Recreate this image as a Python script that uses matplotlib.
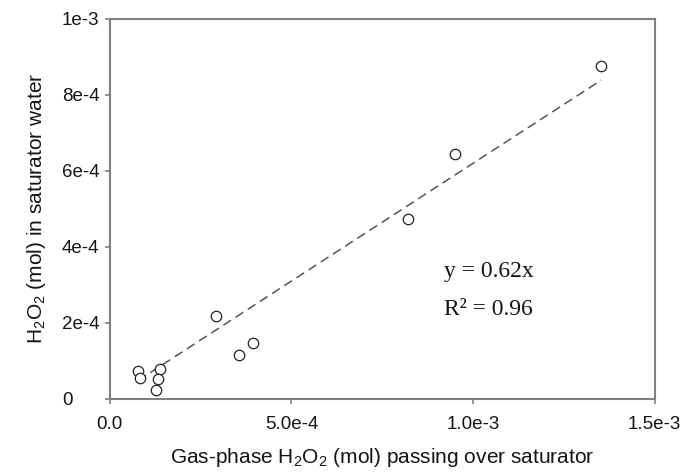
import numpy as np
import matplotlib
matplotlib.use('Agg')
import matplotlib.pyplot as plt

# gas-phase H2O2 (mol) vs H2O2 collected in saturator water (mol)
gas_h2o2 = [7.8e-5, 8.2e-5, 1.37e-4, 1.33e-4, 1.26e-4, 2.93e-4, 3.55e-4, 3.94e-4,
            8.2e-4, 9.5e-4, 1.353e-3]
water_h2o2 = [7.2e-5, 5.5e-5, 7.9e-5, 5.2e-5, 2.3e-5, 2.17e-4, 1.16e-4, 1.47e-4,
              4.74e-4, 6.45e-4, 8.77e-4]
slope = 0.62
r_squared = 0.96

x_ticks = [0.0, 5.0e-4, 1.0e-3, 1.5e-3]
x_tick_labels = ['0.0', '5.0e-4', '1.0e-3', '1.5e-3']
y_ticks = [0.0, 2e-4, 4e-4, 6e-4, 8e-4, 1e-3]
y_tick_labels = ['0', '2e-4', '4e-4', '6e-4', '8e-4', '1e-3']

plt.rcParams['font.family'] = ['Liberation Sans', 'DejaVu Sans']
plt.rcParams['mathtext.fontset'] = 'custom'
plt.rcParams['mathtext.rm'] = 'Liberation Sans'

fig = plt.figure(figsize=(6.82, 4.72), dpi=100)
ax = fig.add_axes([0.161, 0.155, 0.799, 0.805])

spine_col = '#808080'
text_col = '#151515'

fit_x = np.array([min(gas_h2o2), max(gas_h2o2)])
ax.plot(fit_x, slope * fit_x, color='#555555', lw=1.1, dashes=(6, 3.5))

ax.plot(gas_h2o2, water_h2o2, 'o', ms=7.5, mfc='white', mec='#222222', mew=0.9)

ax.set_xlim(0, 1.5e-3)
ax.set_ylim(0, 1e-3)
ax.set_xticks(x_ticks)
ax.set_xticklabels(x_tick_labels)
ax.set_yticks(y_ticks)
ax.set_yticklabels(y_tick_labels)

for side in ['top', 'right', 'left', 'bottom']:
    ax.spines[side].set_color(spine_col)
    ax.spines[side].set_linewidth(1.5)
ax.tick_params(direction='out', length=3.5, width=1.2, color=spine_col,
               labelsize=13.5, labelcolor=text_col, top=False, right=False)
ax.tick_params(axis='x', pad=9)
# y tick labels are left aligned in the original
ax.tick_params(axis='y', pad=31)
for lab in ax.get_yticklabels():
    lab.set_horizontalalignment('left')

ax.set_xlabel('Gas-phase H$_\\mathregular{2}$O$_\\mathregular{2}$ (mol) passing over saturator',
              fontsize=15, labelpad=9, color=text_col)
ax.set_ylabel('H$_\\mathregular{2}$O$_\\mathregular{2}$ (mol) in saturator water',
              fontsize=15, labelpad=10, color=text_col)

ax.text(9.2e-4, 3.2e-4, 'y = %.2fx' % slope, family='Liberation Serif', fontsize=17,
        color=text_col)
ax.text(9.2e-4, 2.2e-4, 'R\u00b2 = %.2f' % r_squared, family='Liberation Serif', fontsize=17,
        color=text_col)

fig.savefig('out.png', dpi=100)
